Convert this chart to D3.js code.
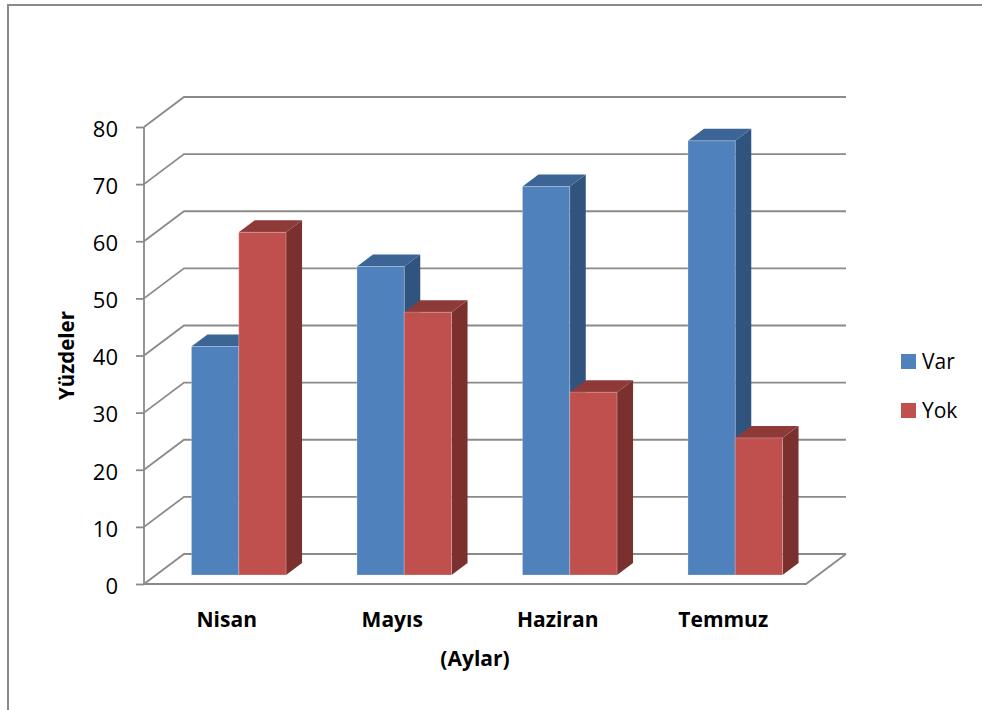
<!DOCTYPE html>
<html><head><meta charset="utf-8">
<script src="https://cdn.jsdelivr.net/npm/d3@7"></script>
<style>body{margin:0;background:#fff}</style>
</head><body><svg id="c" width="982" height="710"></svg>
<script>
const categories = ["Nisan","Mayıs","Haziran","Temmuz"];
const seriesNames = ["Var","Yok"];
const varValues = [40,54,68,76];
const yokValues = [60,46,32,24];
const yTicks = [0,10,20,30,40,50,60,70,80];
const yTitle = "Yüzdeler";
const xTitle = "(Aylar)";

const seriesValues = [varValues, yokValues];
const colors = [
  {front:"#4F81BD", side:"#31547E", top:"#3C6596"},
  {front:"#C0504D", side:"#7A302E", top:"#8E3A38"}
];

const svg = d3.select("#c");
const font = "'Open Sans', sans-serif";
const grid = "#8a8a8a";

// outer border
svg.append("rect").attr("x",8).attr("y",5).attr("width",1000).attr("height",800)
  .attr("fill","none").attr("stroke",grid).attr("stroke-width",2);

const plot = {left:144, right:806, top:127, bottom:584};
const dX = 40, dY = -30;

const x = d3.scaleBand().domain(categories).range([plot.left, plot.right]);
const y = d3.scaleLinear().domain([0,80]).range([plot.bottom, plot.top]);

// back wall + side wall gridlines
svg.append("g").selectAll("path").data(yTicks).join("path")
  .attr("d", t => `M${plot.left},${y(t)} L${plot.left+dX},${y(t)+dY} L${plot.right+dX},${y(t)+dY}`)
  .attr("fill","none").attr("stroke",grid).attr("stroke-width",1.8);

// floor front edges
svg.append("path")
  .attr("d", `M${plot.left},${y(0)} L${plot.right},${y(0)} L${plot.right+dX},${y(0)+dY}`)
  .attr("fill","none").attr("stroke",grid).attr("stroke-width",1.8);

// vertical axis
const yAxisG = svg.append("g").attr("transform",`translate(${plot.left},0)`)
  .call(d3.axisLeft(y).tickValues(yTicks).tickSize(8).tickPadding(18).tickFormat(d3.format("d")));
yAxisG.select(".domain").attr("stroke",grid).attr("stroke-width",1.8).attr("d",`M0,${plot.top}V${plot.bottom}`);
yAxisG.selectAll(".tick line").attr("stroke",grid).attr("stroke-width",1.8);
yAxisG.selectAll(".tick text").attr("font-family",font).attr("font-size",22).attr("fill","#000").attr("dy","0.42em");

// bars
const fFront = 0.3, fBack = 0.7;
const bw = x.bandwidth()/3.5;
const barsG = svg.append("g");
categories.forEach((cat, ci) => {
  seriesValues.forEach((vals, si) => {
    const v = vals[ci];
    const x0 = x(cat) + 0.75*bw + si*bw, x1 = x0 + bw;
    const fx = dX*fFront, fy = dY*fFront, bx = dX*fBack, by = dY*fBack;
    const yv = y(v), y0 = y(0);
    const g = barsG.append("g");
    g.append("path").attr("d",`M${x1+fx},${yv+fy} L${x1+bx},${yv+by} L${x1+bx},${y0+by} L${x1+fx},${y0+fy}Z`)
      .attr("fill",colors[si].side);
    g.append("path").attr("d",`M${x0+fx},${yv+fy} L${x0+bx},${yv+by} L${x1+bx},${yv+by} L${x1+fx},${yv+fy}Z`)
      .attr("fill",colors[si].top);
    g.append("rect").attr("x",x0+fx).attr("y",yv+fy).attr("width",bw).attr("height",y0-yv)
      .attr("fill",colors[si].front).attr("stroke","rgba(255,255,255,0.25)").attr("stroke-width",1);
  });
});

// category labels
svg.append("g").selectAll("text").data(categories).join("text")
  .attr("x", d => x(d)+x.bandwidth()/2).attr("y",627)
  .attr("text-anchor","middle").attr("font-family",font).attr("font-weight","bold").attr("font-size",21)
  .text(d => d);

// axis titles
svg.append("text").attr("x",(plot.left+plot.right)/2).attr("y",666)
  .attr("text-anchor","middle").attr("font-family",font).attr("font-weight","bold").attr("font-size",21)
  .text(xTitle);
svg.append("text").attr("transform",`translate(74,${(plot.top+plot.bottom)/2}) rotate(-90)`)
  .attr("text-anchor","middle").attr("font-family",font).attr("font-weight","bold").attr("font-size",20.5)
  .text(yTitle);

// legend
const leg = svg.append("g").selectAll("g").data(seriesNames).join("g")
  .attr("transform",(d,i)=>`translate(901,${354+i*49})`);
leg.append("rect").attr("width",15).attr("height",15).attr("fill",(d,i)=>colors[i].front);
leg.append("text").attr("x",21).attr("y",15).attr("font-family",font).attr("font-size",21).text(d=>d);
</script>
</body></html>
